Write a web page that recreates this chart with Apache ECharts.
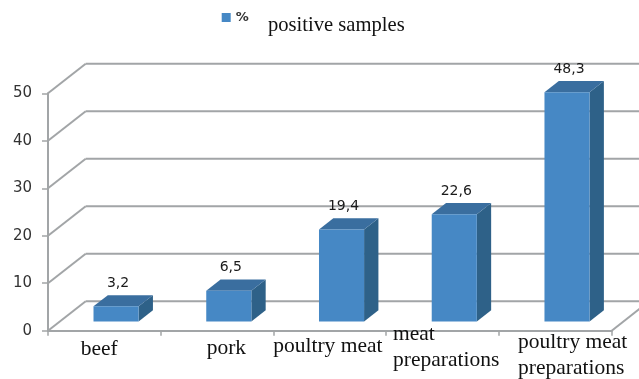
<!DOCTYPE html>
<html>
<head>
<meta charset="utf-8">
<script src="https://cdn.jsdelivr.net/npm/echarts@6/dist/echarts.min.js"></script>
<style>html,body{margin:0;padding:0;background:#fff}#c{width:639px;height:379px}</style>
</head>
<body>
<div id="c"></div>
<script>
const categories = ['beef', 'pork', 'poultry meat', 'meat\npreparations', 'poultry meat\npreparations'];
const positiveSamples = [3.2, 6.5, 19.4, 22.6, 48.3];
const yTicks = [0, 10, 20, 30, 40, 50];
const seriesName = '%';
const titleText = 'positive samples';

// layout / style only
const DX = 37.7, DY = -29.5;   // depth of the back wall
const F0 = 0.31, F1 = 0.69;    // bar front / back depth fraction
const GRID_COLOR = '#a2a5a7';
const FRONT = '#4688c5', TOP = '#3a6e9f', SIDE = '#2e6188';
// category label placement: [left edge offset from category centre, first baseline offset below axis]
const LABEL_POS = [[-23.7, 26], [-10.4, 25.3], [-56.6, 22.6], [-49.6, 11], [-37.3, 19.3]];
const LABEL_FONT = 21.5, LABEL_LH = 25.5;

const chart = echarts.init(document.getElementById('c'), null, {renderer: 'canvas'});

function fmt(v) { return v.toFixed(1).replace('.', ','); }

const option = {
  animation: false,
  backgroundColor: '#fff',
  title: {
    text: titleText, left: 268, top: 15, padding: 0,
    textStyle: {fontFamily: 'Liberation Serif', fontWeight: 'normal', fontSize: 20.6, color: '#111'}
  },
  legend: {
    data: [seriesName], left: 216.7, top: 6, icon: 'rect', itemWidth: 9, itemHeight: 9, itemGap: 4,
    textStyle: {fontFamily: 'DejaVu Sans', fontSize: 13, fontWeight: 'bold', color: '#333'}
  },
  grid: {left: 48, right: 27.3, top: 93.3, bottom: 48.3, containLabel: false},
  xAxis: {
    type: 'category', data: categories, boundaryGap: true,
    axisLine: {show: true, lineStyle: {color: GRID_COLOR, width: 2}},
    axisTick: {show: true, length: 5, alignWithLabel: false, lineStyle: {color: GRID_COLOR, width: 1.5}},
    axisLabel: {show: false},
    splitLine: {show: false}
  },
  yAxis: {
    type: 'value', min: 0, max: 50, interval: 10,
    axisLine: {show: true, lineStyle: {color: GRID_COLOR, width: 2}},
    axisTick: {show: true, length: 6, lineStyle: {color: GRID_COLOR, width: 1.5}},
    axisLabel: {margin: 16, fontFamily: 'DejaVu Sans', fontSize: 15, color: '#333',
      formatter: function (v) { return yTicks.indexOf(v) >= 0 ? String(v) : ''; }},
    splitLine: {show: false}
  },
  series: [
    {
      type: 'custom', name: 'walls', silent: true, z: 1,
      data: yTicks.map(v => [0, v]),
      renderItem: function (params, api) {
        const v = api.value(1);
        const band = api.size([1, 0])[0];
        const p = api.coord([0, v]);
        const left = p[0] - band / 2;
        const pr = api.coord([categories.length - 1, v]);
        const right = pr[0] + band / 2;
        const children = [
          {type: 'line', shape: {x1: left, y1: p[1], x2: left + DX, y2: p[1] + DY},
            style: {stroke: GRID_COLOR, lineWidth: 2}},
          {type: 'line', shape: {x1: left + DX, y1: p[1] + DY, x2: right + DX + 40, y2: p[1] + DY},
            style: {stroke: GRID_COLOR, lineWidth: 2}}
        ];
        if (v === yTicks[0]) {
          children.push({type: 'line', shape: {x1: right, y1: p[1], x2: right + DX, y2: p[1] + DY},
            style: {stroke: GRID_COLOR, lineWidth: 2}});
        }
        return {type: 'group', children: children};
      }
    },
    {
      type: 'custom', name: 'categoryLabels', silent: true, z: 2,
      data: categories.map((c, i) => [i, 0]),
      renderItem: function (params, api) {
        const i = api.value(0);
        const p = api.coord([i, 0]);
        const pos = LABEL_POS[i];
        const baselineToMiddle = 0.3375 * LABEL_FONT;
        return {
          type: 'text',
          style: {
            text: categories[i],
            x: p[0] + pos[0],
            y: p[1] + pos[1] - baselineToMiddle - LABEL_LH / 2,
            textAlign: 'left', textVerticalAlign: 'top',
            fontFamily: 'Liberation Serif', fontSize: LABEL_FONT, lineHeight: LABEL_LH,
            fill: '#111'
          }
        };
      }
    },
    {
      type: 'custom', name: seriesName, z: 5,
      itemStyle: {color: FRONT},
      data: positiveSamples.map((v, i) => [i, v]),
      renderItem: function (params, api) {
        const i = api.value(0), v = api.value(1);
        const c0 = api.coord([i, 0]), c1 = api.coord([i, v]);
        const band = api.size([1, 0])[0];
        const w = band * 0.4;
        const fx = c0[0] + F0 * DX - w / 2;
        const by = c0[1] + F0 * DY, ty = c1[1] + F0 * DY;
        const ddx = (F1 - F0) * DX, ddy = (F1 - F0) * DY;
        return {
          type: 'group',
          children: [
            {type: 'polygon', shape: {points: [[fx + w, ty], [fx + w + ddx, ty + ddy], [fx + w + ddx, by + ddy], [fx + w, by]]},
              style: {fill: SIDE}},
            {type: 'polygon', shape: {points: [[fx, ty], [fx + w, ty], [fx + w + ddx, ty + ddy], [fx + ddx, ty + ddy]]},
              style: {fill: TOP}},
            {type: 'rect', shape: {x: fx, y: ty, width: w, height: by - ty}, style: {fill: FRONT}},
            {type: 'text', style: {text: fmt(v), x: fx + w / 2 + 2, y: ty + ddy - 5,
              textAlign: 'center', textVerticalAlign: 'bottom',
              fontFamily: 'DejaVu Sans', fontSize: 14, fill: '#1a1a1a'}}
          ]
        };
      }
    }
  ]
};
chart.setOption(option);
</script>
</body>
</html>
